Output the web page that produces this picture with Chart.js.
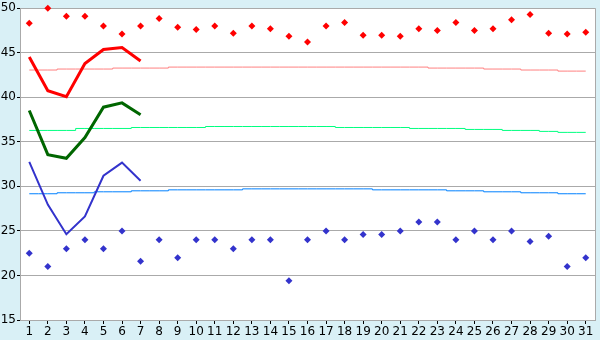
<!DOCTYPE html>
<html>
<head>
<meta charset="utf-8">
<script src="https://cdn.jsdelivr.net/npm/chart.js@4"></script>
<style>
  body { margin: 0; background: #d9f0f6; }
  canvas { display: block; }
</style>
</head>
<body>
<canvas id="myChart" width="600" height="340"></canvas>
<script>
const dayList = ['1','2','3','4','5','6','7','8','9','10','11','12','13','14','15','16','17','18','19','20','21','22','23','24','25','26','27','28','29','30','31']

// daily extremes (diamonds)
const maxPoints = [48.3, 50.0, 49.1, 49.1, 48.0, 47.1, 48.0, 48.85, 47.85, 47.6, 48.0, 47.2, 48.0, 47.7, 46.85, 46.2, 48.0, 48.4, 46.95, 46.95, 46.85, 47.7, 47.5, 48.4, 47.5, 47.7, 48.7, 49.3, 47.2, 47.1, 47.3]
const minPoints = [22.5, 21.0, 23.0, 24.0, 23.0, 25.0, 21.6, 24.0, 22.0, 24.0, 24.0, 23.0, 24.0, 24.0, 19.4, 24.0, 25.0, 24.0, 24.6, 24.6, 25.0, 26.0, 26.0, 24.0, 25.0, 24.0, 25.0, 23.8, 24.4, 21.0, 22.0]

// long-term averages (thin lines)
const maxAverage = [43.06, 43.06, 43.17, 43.17, 43.17, 43.28, 43.28, 43.28, 43.39, 43.39, 43.39, 43.39, 43.39, 43.39, 43.39, 43.39, 43.39, 43.39, 43.39, 43.39, 43.39, 43.39, 43.28, 43.28, 43.28, 43.17, 43.17, 43.06, 43.06, 42.94, 42.94]
const midAverage = [36.28, 36.28, 36.28, 36.5, 36.5, 36.5, 36.61, 36.61, 36.61, 36.61, 36.72, 36.72, 36.72, 36.72, 36.72, 36.72, 36.72, 36.61, 36.61, 36.61, 36.61, 36.5, 36.5, 36.5, 36.39, 36.39, 36.28, 36.28, 36.17, 36.06, 36.06]
const minAverage = [29.17, 29.17, 29.28, 29.28, 29.39, 29.39, 29.5, 29.5, 29.61, 29.61, 29.61, 29.61, 29.72, 29.72, 29.72, 29.72, 29.72, 29.72, 29.72, 29.61, 29.61, 29.61, 29.61, 29.5, 29.5, 29.39, 29.39, 29.28, 29.28, 29.17, 29.17]

// current values, first week only
const maxCurrent = [44.52, 40.74, 40.07, 43.78, 45.37, 45.59, 44.07]
const midCurrent = [38.52, 33.56, 33.15, 35.48, 38.89, 39.37, 38.04]
const minCurrent = [32.74, 27.96, 24.63, 26.63, 31.19, 32.67, 30.63]

const yTicks = [15, 20, 25, 30, 35, 40, 45, 50]

const tickFont = { family: 'DejaVu Sans', size: 12 }

// Paint the light blue frame and white plot area
const backgroundPlugin = {
    id: 'background',
    beforeDraw(chart) {
        const c = chart.ctx
        const a = chart.chartArea
        c.save()
        c.fillStyle = '#d9f0f6'
        c.fillRect(0, 0, chart.width, chart.height)
        c.fillStyle = '#ffffff'
        c.fillRect(a.left, a.top, a.right - a.left, a.bottom - a.top)
        c.restore()
    },
    afterDatasetsDraw(chart) {
        const c = chart.ctx
        const a = chart.chartArea
        c.save()
        c.strokeStyle = '#aaaaaa'
        c.lineWidth = 1
        c.beginPath()
        c.moveTo(a.right + 0.5, a.top)
        c.lineTo(a.right + 0.5, a.bottom)
        c.stroke()
        c.restore()
    }
}

function lineSet(data, color, width, stepped) {
    return {
        data: data,
        borderColor: color,
        borderWidth: width,
        pointRadius: 0,
        fill: false,
        tension: 0,
        stepped: stepped
    }
}

function pointSet(data, color) {
    return {
        data: data,
        showLine: false,
        clip: false,
        pointStyle: 'rectRot',
        pointRadius: 3.5,
        pointBackgroundColor: color,
        pointBorderColor: color,
        pointBorderWidth: 0
    }
}

const ctx = document.getElementById('myChart').getContext('2d')

const myChart = new Chart(ctx, {
    type: 'line',
    data: {
        labels: dayList,
        datasets: [
            lineSet(maxCurrent, '#ff0000', 3, false),
            lineSet(midCurrent, '#006600', 3, false),
            lineSet(minCurrent, '#3333cc', 2, false),
            pointSet(maxPoints, '#ff0000'),
            pointSet(minPoints, '#3333cc'),
            lineSet(maxAverage, '#ff8080', 1, 'middle'),
            lineSet(midAverage, '#00ff80', 1, 'middle'),
            lineSet(minAverage, '#0080ff', 1, 'middle')
        ]
    },
    options: {
        responsive: false,
        animation: false,
        layout: { padding: { top: 5, right: 5, left: 0, bottom: 0 } },
        plugins: {
            legend: { display: false },
            tooltip: { enabled: false }
        },
        scales: {
            x: {
                type: 'category',
                offset: true,
                grid: {
                    offset: false,
                    drawOnChartArea: false,
                    drawTicks: true,
                    tickLength: 4,
                    tickColor: '#000000'
                },
                border: { color: '#aaaaaa' },
                ticks: {
                    color: '#000000',
                    font: tickFont,
                    padding: 1,
                    maxRotation: 0,
                    autoSkip: false
                },
                afterFit(scale) { scale.height = 20 }
            },
            y: {
                min: 15,
                max: 50,
                afterBuildTicks(scale) {
                    scale.ticks = yTicks.map(v => ({ value: v }))
                },
                grid: {
                    color: '#aaaaaa',
                    tickLength: 3,
                    tickColor: '#000000'
                },
                border: { color: '#aaaaaa' },
                ticks: {
                    color: '#000000',
                    font: tickFont,
                    padding: 1
                },
                afterFit(scale) { scale.width = 20 }
            }
        }
    },
    plugins: [backgroundPlugin]
})
</script>
</body>
</html>
